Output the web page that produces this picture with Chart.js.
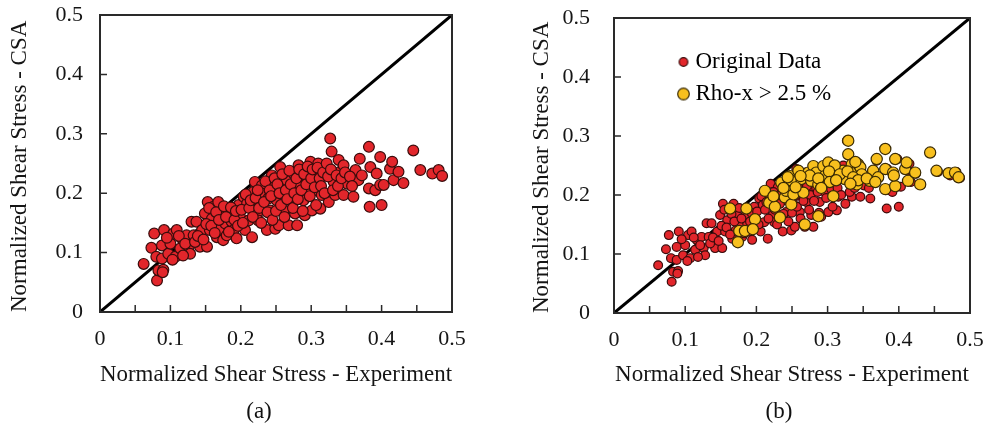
<!DOCTYPE html>
<html>
<head>
<meta charset="utf-8">
<script src="https://cdn.jsdelivr.net/npm/chart.js@4.4.0/dist/chart.umd.min.js"></script>
<style>
  html, body { margin: 0; padding: 0; background: #fff; overflow: hidden; }
  #wrap { position: relative; width: 984px; height: 425px; }
  canvas { position: absolute; top: 0; }
  #chart-a { left: 0; }
  #chart-b { left: 490px; }
  .caption { position: absolute; top: 399px; line-height: 23px; font-family: "Liberation Serif", serif; font-size: 23px; color: #111; transform: translateX(-50%); }
</style>
</head>
<body>
<div id="wrap">
  <canvas id="chart-a" width="490" height="425"></canvas>
  <canvas id="chart-b" width="494" height="425"></canvas>
  <div class="caption" style="left:259px">(a)</div>
  <div class="caption" style="left:779px">(b)</div>
</div>
<script>
// original data (normalized shear stress: experiment vs CSA)
const originalX = [
  0.062,0.073,0.077,0.080,0.081,0.083,0.090,0.089,0.091,0.088,
  0.088,0.097,0.100,0.104,0.109,0.107,0.114,0.116,0.123,0.126,
  0.128,0.130,0.133,0.137,0.142,0.145,0.149,0.152,0.153,0.156,
  0.159,0.161,0.166,0.168,0.171,0.173,0.175,0.178,0.180,0.185,
  0.187,0.190,0.194,0.197,0.199,0.204,0.206,0.209,0.211,0.216,
  0.218,0.220,0.223,0.225,0.227,0.230,0.232,0.237,0.239,0.242,
  0.244,0.246,0.249,0.251,0.254,0.256,0.258,0.261,0.265,0.268,
  0.270,0.273,0.275,0.277,0.280,0.282,0.284,0.287,0.289,0.291,
  0.296,0.299,0.301,0.303,0.306,0.308,0.310,0.313,0.315,0.320,
  0.325,0.327,0.329,0.332,0.334,0.339,0.341,0.346,0.346,0.351,
  0.360,0.363,0.367,0.369,0.372,0.382,0.382,0.383,0.384,0.391,
  0.393,0.398,0.398,0.400,0.403,0.412,0.415,0.417,0.424,0.431,
  0.445,0.455,0.472,0.481,0.486,
  0.095,0.103,0.112,0.118,0.121,0.135,0.139,0.147,0.151,0.155,
  0.158,0.163,0.165,0.169,0.176,0.179,0.183,0.186,0.191,0.193,
  0.196,0.201,0.203,0.207,0.212,0.214,0.217,0.221,0.224,0.226,
  0.229,0.233,0.235,0.238,0.241,0.243,0.245,0.248,0.250,0.252,
  0.255,0.257,0.259,0.262,0.264,0.266,0.269,0.271,0.274,0.276,
  0.279,0.281,0.283,0.286,0.288,0.290,0.293,0.295,0.298,0.300,
  0.302,0.305,0.307,0.309,0.312,0.314,0.317,0.319,0.322,0.324,
  0.328,0.331,0.336,0.338,0.343,0.348,0.355,0.358
];
const originalY = [
  0.081,0.108,0.132,0.093,0.053,0.070,0.071,0.067,0.138,0.112,
  0.090,0.098,0.115,0.132,0.138,0.093,0.107,0.124,0.129,0.110,
  0.098,0.152,0.129,0.152,0.110,0.138,0.166,0.110,0.185,0.138,
  0.157,0.177,0.126,0.185,0.140,0.166,0.121,0.149,0.129,0.166,
  0.152,0.138,0.124,0.180,0.160,0.194,0.138,0.183,0.154,0.126,
  0.202,0.219,0.166,0.154,0.183,0.213,0.199,0.138,0.191,0.171,
  0.230,0.211,0.140,0.188,0.146,0.244,0.199,0.171,0.222,0.146,
  0.188,0.211,0.233,0.166,0.146,0.247,0.211,0.228,0.188,0.163,
  0.205,0.253,0.171,0.222,0.233,0.205,0.250,0.174,0.197,0.241,
  0.185,0.292,0.270,0.219,0.197,0.256,0.236,0.247,0.197,0.216,
  0.194,0.239,0.222,0.258,0.230,0.278,0.208,0.177,0.244,0.205,
  0.233,0.261,0.214,0.180,0.214,0.241,0.253,0.222,0.236,0.217,
  0.272,0.239,0.233,0.239,0.229,
  0.125,0.088,0.128,0.095,0.115,0.118,0.128,0.122,0.148,0.175,
  0.145,0.133,0.168,0.155,0.178,0.160,0.135,0.176,0.155,0.170,
  0.145,0.172,0.150,0.198,0.175,0.188,0.160,0.192,0.205,0.175,
  0.150,0.185,0.220,0.168,0.205,0.195,0.155,0.225,0.170,0.215,
  0.200,0.180,0.232,0.160,0.205,0.190,0.238,0.215,0.175,0.200,
  0.225,0.190,0.240,0.205,0.170,0.232,0.215,0.245,0.195,0.225,
  0.240,0.210,0.180,0.243,0.225,0.212,0.235,0.200,0.250,0.228,
  0.240,0.205,0.230,0.212,0.225,0.235,0.228,0.212
];
// specimens with Rho-x > 2.5 %
const rhoX = [
  0.163,0.176,0.174,0.186,0.184,0.198,0.195,0.212,0.218,0.226,
  0.224,0.233,0.235,0.240,0.242,0.247,0.249,0.252,0.259,0.263,
  0.266,0.268,0.273,0.277,0.280,0.284,0.287,0.287,0.294,0.296,
  0.301,0.306,0.308,0.313,0.322,0.324,0.329,0.329,0.334,0.338,
  0.341,0.343,0.359,0.364,0.369,0.371,0.381,0.381,0.381,0.392,
  0.395,0.395,0.409,0.411,0.413,0.423,0.430,0.444,0.453,0.470,
  0.479,0.484,
  0.310,0.346,0.302,0.275,0.317,0.328,0.348,0.393,0.336,0.287,
  0.303,0.312,0.343,0.355,0.367,0.332,0.248,0.244,0.291,0.238,
  0.255,0.262,0.339
];
const rhoY = [
  0.177,0.139,0.120,0.177,0.139,0.159,0.142,0.207,0.187,0.180,
  0.198,0.162,0.221,0.196,0.207,0.232,0.184,0.201,0.241,0.227,
  0.204,0.150,0.238,0.224,0.249,0.238,0.218,0.164,0.249,0.232,
  0.255,0.241,0.198,0.244,0.241,0.227,0.292,0.269,0.252,0.238,
  0.218,0.252,0.224,0.241,0.261,0.230,0.278,0.244,0.210,0.238,
  0.261,0.215,0.244,0.255,0.224,0.238,0.218,0.272,0.241,0.237,
  0.238,0.230,
  0.250,0.247,0.240,0.233,0.235,0.240,0.235,0.233,0.230,0.228,
  0.222,0.225,0.225,0.228,0.222,0.219,0.225,0.230,0.212,0.212,
  0.213,0.232,0.256
];
const diagonalX = [0, 0.5];
const diagonalY = [0, 0.5];

const xTickValues = [0, 0.1, 0.2, 0.3, 0.4, 0.5];
const xTickLabels = ['0', '0.1', '0.2', '0.3', '0.4', '0.5'];
const yTickValues = [0, 0.1, 0.2, 0.3, 0.4, 0.5];
const yTickLabels = ['0', '0.1', '0.2', '0.3', '0.4', '0.5'];
const xTickMarks = [0.05, 0.1, 0.15, 0.2, 0.25, 0.3, 0.35, 0.4, 0.45];
const yTickMarks = [0.1, 0.2, 0.3, 0.4];
const legendLabels = ['Original Data', 'Rho-x > 2.5 %'];

const RED = '#e2262b', RED_EDGE = '#3a0c0c';
const YELLOW = '#f8c01e', YELLOW_EDGE = '#3a2b04';
const TEXT = '#151515';
const serif = '"Liberation Serif", "Times New Roman", serif';

const toPoints = (xs, ys) => xs.map((x, i) => ({ x, y: ys[i] }));

function makeDot(r, fill, stroke) {
  const c = document.createElement('canvas');
  const s = Math.ceil(2 * r + 3);
  c.width = s; c.height = s;
  const g = c.getContext('2d');
  g.beginPath();
  g.arc(s / 2, s / 2, r, 0, Math.PI * 2);
  g.fillStyle = fill;
  g.fill();
  g.lineWidth = 1.2;
  g.strokeStyle = stroke;
  g.stroke();
  return c;
}

// frame around the plot and inward tick marks
const frameAndTicks = {
  id: 'frameAndTicks',
  afterDatasetsDraw(chart) {
    const { ctx, chartArea: a, scales: { x, y } } = chart;
    ctx.save();
    ctx.strokeStyle = '#2a2a2a';
    ctx.lineWidth = 1.5;
    ctx.beginPath();
    xTickMarks.forEach(v => {
      const px = x.getPixelForValue(v);
      ctx.moveTo(px, a.bottom);
      ctx.lineTo(px, a.bottom - 7);
    });
    yTickMarks.forEach(v => {
      const py = y.getPixelForValue(v);
      ctx.moveTo(a.left, py);
      ctx.lineTo(a.left + 7, py);
    });
    ctx.stroke();
    ctx.lineWidth = 2;
    ctx.strokeRect(a.left, a.top, a.right - a.left, a.bottom - a.top);
    ctx.restore();
  }
};

// move the in-plot legend to its spot
const legendOffset = {
  id: 'legendOffset',
  afterLayout(chart, args, opts) {
    const lg = chart.legend;
    if (!lg || !opts.dx) return;
    lg.left += opts.dx; lg.right += opts.dx;
    lg.top += opts.dy; lg.bottom += opts.dy;
  }
};

function makeChart(id, cfg) {
  const datasets = [{
    type: 'line',
    data: toPoints(diagonalX, diagonalY),
    borderColor: '#000',
    borderWidth: 3,
    pointRadius: 0,
    order: 3
  }, {
    data: toPoints(originalX, originalY),
    pointRadius: cfg.redRadius,
    pointBackgroundColor: RED,
    pointBorderColor: RED_EDGE,
    pointBorderWidth: 1.2,
    order: 2
  }];
  if (cfg.withRho) {
    datasets.push({
      data: toPoints(rhoX, rhoY),
      pointRadius: 5.6,
      pointBackgroundColor: YELLOW,
      pointBorderColor: YELLOW_EDGE,
      pointBorderWidth: 1.2,
      order: 1
    });
  }

  return new Chart(document.getElementById(id), {
    type: 'scatter',
    data: { datasets },
    options: {
      responsive: false,
      animation: false,
      events: [],
      layout: { padding: { top: cfg.top, right: cfg.right, left: 0, bottom: 0 } },
      scales: {
        x: {
          type: 'linear', min: 0, max: 0.5,
          afterBuildTicks: s => { s.ticks = xTickValues.map(v => ({ value: v })); },
          ticks: {
            font: { family: serif, size: 22 }, color: TEXT, padding: 14,
            maxRotation: 0, autoSkip: false,
            callback: (v, i) => xTickLabels[i]
          },
          grid: { display: false, drawTicks: false },
          border: { display: false },
          title: {
            display: true, text: 'Normalized Shear Stress - Experiment',
            font: { family: serif, size: 23 }, color: TEXT,
            padding: { top: 0, bottom: 36 }
          },
          afterFit: s => { s.height = cfg.xHeight; s.paddingLeft = 0; s.paddingRight = 0; }
        },
        y: {
          type: 'linear', min: 0, max: 0.5,
          afterBuildTicks: s => { s.ticks = yTickValues.map(v => ({ value: v })); },
          ticks: {
            font: { family: serif, size: 22 }, color: TEXT, padding: cfg.yTickPad,
            callback: (v, i) => yTickLabels[i]
          },
          grid: { display: false, drawTicks: false },
          border: { display: false },
          title: {
            display: true, text: 'Normalized Shear Stress - CSA', align: 'start',
            font: { family: serif, size: 23 }, color: TEXT,
            padding: { top: cfg.yTitlePad, bottom: 0 }
          },
          afterFit: s => { s.width = cfg.yWidth; s.paddingTop = 0; s.paddingBottom = 0; }
        }
      },
      plugins: {
        tooltip: { enabled: false },
        legend: cfg.withRho ? {
          display: true,
          position: 'chartArea',
          align: 'start',
          labels: {
            usePointStyle: true,
            boxWidth: 1,
            boxHeight: 12,
            padding: 9,
            color: TEXT,
            font: { family: serif, size: 23 },
            generateLabels: () => legendLabels.map((text, i) => ({
              text,
              pointStyle: i === 0 ? makeDot(4.3, RED, RED_EDGE) : makeDot(5.8, YELLOW, YELLOW_EDGE),
              fillStyle: i === 0 ? RED : YELLOW,
              strokeStyle: i === 0 ? RED_EDGE : YELLOW_EDGE,
              lineWidth: 1,
              hidden: false,
              datasetIndex: i + 1
            }))
          }
        } : { display: false },
        legendOffset: cfg.withRho ? { dx: 60, dy: 41.5 } : {}
      }
    },
    plugins: [frameAndTicks, legendOffset]
  });
}

makeChart('chart-a', { top: 15, right: 38, xHeight: 113, yWidth: 100, yTickPad: 17, yTitlePad: 6, redRadius: 5.4, withRho: false });
makeChart('chart-b', { top: 18, right: 14, xHeight: 112, yWidth: 124, yTickPad: 24, yTitlePad: 38, redRadius: 4.4, withRho: true });
</script>
</body>
</html>
